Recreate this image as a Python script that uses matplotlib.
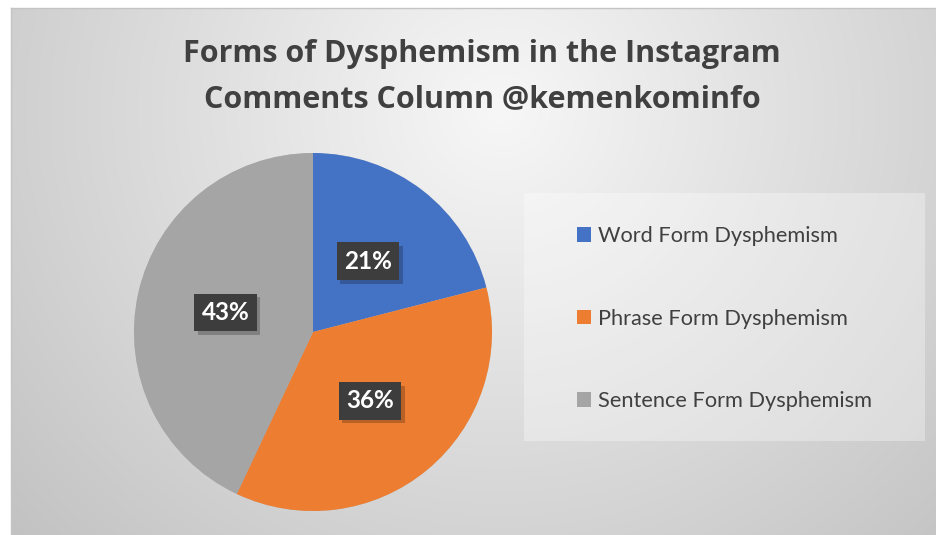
import numpy as np
import matplotlib
matplotlib.use("Agg")
import matplotlib.pyplot as plt
from matplotlib.patches import Rectangle
import matplotlib.patheffects as pe

# ---- data ----
categories = ["Word Form Dysphemism", "Phrase Form Dysphemism", "Sentence Form Dysphemism"]
values = [21, 36, 43]
colors = ["#4472C4", "#ED7D31", "#A5A5A5"]
title_lines = ["Forms of Dysphemism in the Instagram", "Comments Column @kemenkominfo"]

W, H = 937, 535
fig = plt.figure(figsize=(W / 100, H / 100), dpi=100)
fig.patch.set_facecolor("white")

# ---- background radial gradient (chart area) ----
bg = fig.add_axes([0, 0, 1, 1])
bg.set_axis_off()
yy, xx = np.mgrid[0:H, 0:W]
cx, cy = 500, 110
d = np.sqrt(((xx - cx) * 1.0) ** 2 + ((yy - cy) * 1.05) ** 2)
val = np.clip(247 - 0.08 * d, 185, 250) / 255.0
img = np.dstack([val, val, val])
x0, y0 = 11, 8
img[:y0, :, :] = 1.0
img[:, :x0, :] = 1.0
bg.imshow(img, extent=(0, W, H, 0), aspect="auto", interpolation="bilinear")
bg.set_xlim(0, W)
bg.set_ylim(H, 0)
bg.plot([x0, W], [y0, y0], color="#c4c4c4", lw=1)
bg.plot([x0, x0], [y0, H], color="#c4c4c4", lw=1)

# legend box
bg.add_patch(Rectangle((524, 193), 401, 248, facecolor="white", alpha=0.32, edgecolor="none"))

# ---- title ----
for i, line in enumerate(title_lines):
    fig.text(482 / W, 1 - (62 + 45 * i) / H, line, ha="center", va="baseline",
             fontsize=22, fontweight="bold", color="#404040", family="Open Sans")

# ---- pie ----
cxp, cyp, r = 313, 332, 179
ax = fig.add_axes([(cxp - r) / W, (H - cyp - r) / H, 2 * r / W, 2 * r / H])
wedges, texts, autotexts = ax.pie(
    values, colors=colors, startangle=90, counterclock=False,
    autopct="%1.0f%%", pctdistance=0.5, radius=1.0,
    wedgeprops=dict(linewidth=0),
    textprops=dict(color="white", fontsize=17.5, fontweight="bold", family="Lato"))
ax.set_xlim(-1, 1)
ax.set_ylim(-1, 1)
ax.set_aspect("equal")
for w in wedges:
    w.set_path_effects([pe.SimplePatchShadow(offset=(0, 0), alpha=0.12, shadow_rgbFace="black"), pe.Normal()])

for t in autotexts:
    t.set_bbox(dict(boxstyle="square,pad=0.3", facecolor="#3d3d3d", edgecolor="none",
                    linewidth=0))
    t.get_bbox_patch().set_path_effects(
        [pe.SimplePatchShadow(offset=(2.5, -2.5), alpha=0.22, shadow_rgbFace="black"), pe.Normal()])

# ---- legend ----
leg = fig.legend(wedges, categories, loc="center left",
                 bbox_to_anchor=(577 / W, 1 - 318.5 / H), frameon=False,
                 prop=dict(family="Lato", size=15.7), labelcolor="#404040",
                 handlelength=0.65, handleheight=0.65, handletextpad=0.3,
                 labelspacing=2.87, borderpad=0, borderaxespad=0)

fig.savefig("out.png", dpi=100)
